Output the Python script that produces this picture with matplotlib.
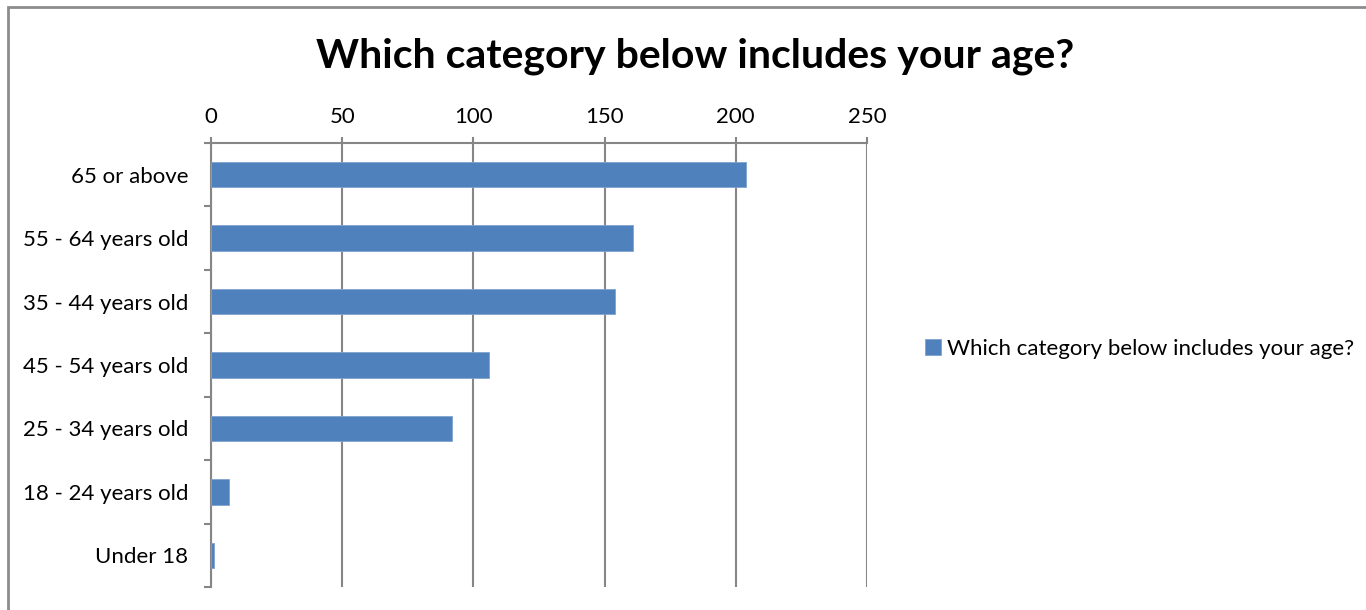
import matplotlib
matplotlib.use('Agg')
import matplotlib.pyplot as plt
from matplotlib.patches import Rectangle

plt.rcParams['font.family'] = ['Lato', 'DejaVu Sans']

# data, bottom to top as drawn
categories = ['Under 18', '18 - 24 years old', '25 - 34 years old', '45 - 54 years old',
              '35 - 44 years old', '55 - 64 years old', '65 or above']
counts = [1, 7, 92, 106, 154, 161, 204]
series_name = 'Which category below includes your age?'
x_ticks = [0, 50, 100, 150, 200, 250]

bar_color = '#4F81BD'
grid_color = '#868686'

fig = plt.figure(figsize=(13.66, 6.10), dpi=100)
ax = fig.add_axes([211 / 1366, 1 - 587 / 610, 656 / 1366, 444 / 610])

y = list(range(len(categories)))
bars = ax.barh(y, counts, height=0.4, color=bar_color, edgecolor='#7FA3D1',
               linewidth=0.6, label=series_name, zorder=3)

ax.set_xlim(0, 250)
ax.set_ylim(-0.5, len(categories) - 0.5)
ax.set_xticks(x_ticks)
ax.xaxis.tick_top()
ax.tick_params(axis='x', direction='out', length=4.5, width=1.5, color=grid_color,
               labelsize=16, pad=7, labelcolor='black')
ax.set_yticks(y)
ax.set_yticklabels(categories)
ax.set_yticks([i - 0.5 for i in range(len(categories) + 1)], minor=True)
ax.tick_params(axis='y', which='major', length=0, labelsize=16, pad=16.5)
ax.tick_params(axis='y', which='minor', direction='out', length=5, width=1.5, color=grid_color)

ax.grid(axis='x', color=grid_color, linewidth=1.5, zorder=0)
for side in ['right', 'bottom']:
    ax.spines[side].set_visible(False)
for side in ['top', 'left']:
    ax.spines[side].set_color(grid_color)
    ax.spines[side].set_linewidth(1.5)

fig.text(0.5 * (318 + 1073) / 1366, 1 - 56 / 610, series_name, ha='center', va='center',
         fontsize=29.5, fontweight='bold')

fig.legend(handles=[bars], labels=[series_name], loc='center left',
           bbox_to_anchor=(905 / 1366, 1 - 349 / 610), frameon=False, fontsize=16,
           handlelength=0.7, handleheight=0.7, handletextpad=0.3)

# outer chart border
fig.patches.append(Rectangle((8 / 1366, -0.1), 1.2, 1 - 7 / 610 + 0.1, transform=fig.transFigure,
                             fill=False, edgecolor='#8C8C8C', linewidth=2))

fig.savefig('out.png', dpi=100)
